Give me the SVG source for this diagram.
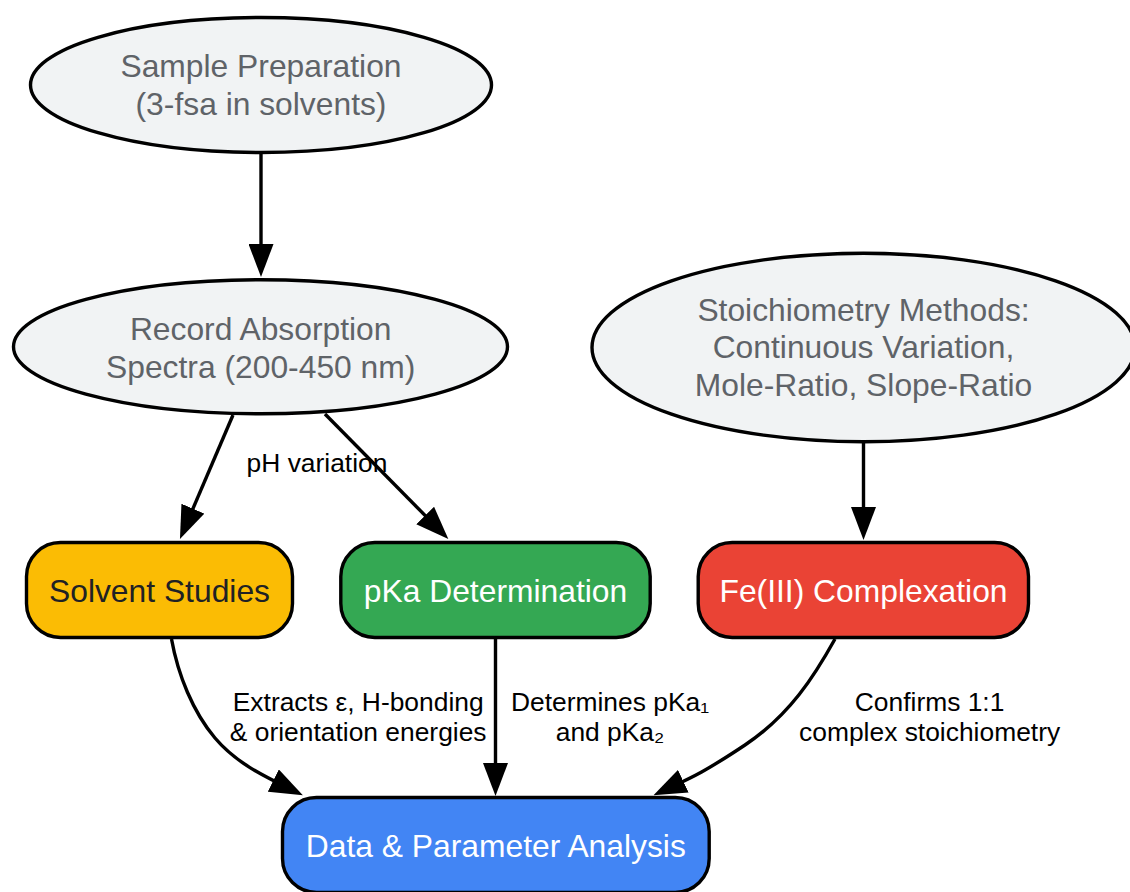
<svg xmlns="http://www.w3.org/2000/svg" width="1130" height="892" viewBox="0 0 1130 892">
<defs>
<style>
text{font-family:"Liberation Sans",Arial,sans-serif;text-anchor:middle}
.ell{fill:#f1f3f4;stroke:#000;stroke-width:3.4}
.box{stroke:#000;stroke-width:3.4}
.nt{font-size:31.8px}
.gt{fill:#5f6368}
.wt{fill:#ffffff}
.lbl{font-size:26.4px;fill:#000}
.edge{fill:none;stroke:#000;stroke-width:3.4;marker-end:url(#ah)}
</style>
<marker id="ah" markerUnits="userSpaceOnUse" markerWidth="33" markerHeight="25" refX="23" refY="12.5" orient="auto" viewBox="0 0 33 25">
<path d="M0,0 L33,12.5 L0,25 z" fill="#000"/>
</marker>
</defs>
<rect x="0" y="0" width="1130" height="892" fill="#ffffff"/>
<g id="connectors">
<path class="edge" d="M261,154 L261,267"/>
<path class="edge" d="M233,415 L183.9,529.8"/>
<path class="edge" d="M325,414 L441.3,531.9"/>
<path class="edge" d="M863.5,443 L863.5,530"/>
<path class="edge" d="M495.5,639 L495.5,786"/>
<path class="edge" d="M171.5,639 C178,675 193,712 215,738 S266,777 293.9,790.8"/>
<path class="edge" d="M835,639 C815,675 790,715 745,745 S688,779 662.5,791"/>
<text class="lbl" x="317" y="471.7">pH variation</text>
<text class="lbl" x="358.2" y="711">Extracts ε, H-bonding</text>
<text class="lbl" x="358.2" y="741">&amp; orientation energies</text>
<text class="lbl" x="610" y="711">Determines pKa₁</text>
<text class="lbl" x="610" y="741">and pKa₂</text>
<text class="lbl" x="929.6" y="711">Confirms 1:1</text>
<text class="lbl" x="929.6" y="741">complex stoichiometry</text>
</g>
<g id="sample">
<ellipse class="ell" cx="261" cy="85" rx="230.5" ry="67.5"/>
<text class="nt gt" x="261" y="77.3">Sample Preparation</text>
<text class="nt gt" x="261" y="115">(3-fsa in solvents)</text>
</g>
<g id="record">
<ellipse class="ell" cx="260.5" cy="346.7" rx="247" ry="67"/>
<text class="nt gt" x="260.7" y="340">Record Absorption</text>
<text class="nt gt" x="260.7" y="377.5">Spectra (200-450 nm)</text>
</g>
<g id="stoich">
<ellipse class="ell" cx="863.5" cy="347.5" rx="271.5" ry="94.3"/>
<text class="nt gt" x="863.5" y="321">Stoichiometry Methods:</text>
<text class="nt gt" x="863.5" y="358.3">Continuous Variation,</text>
<text class="nt gt" x="863.5" y="396">Mole-Ratio, Slope-Ratio</text>
</g>
<g id="solvent">
<rect class="box" x="26.5" y="542.5" width="266" height="95" rx="34" fill="#fbbc04"/>
<text class="nt" x="159.5" y="601.7" fill="#202124">Solvent Studies</text>
</g>
<g id="pka">
<rect class="box" x="340.8" y="542.5" width="309.4" height="95" rx="34" fill="#34a853"/>
<text class="nt wt" x="495.5" y="601.7">pKa Determination</text>
</g>
<g id="fe">
<rect class="box" x="698.2" y="542.5" width="330.3" height="95" rx="34" fill="#ea4335"/>
<text class="nt wt" x="863.5" y="601.7">Fe(III) Complexation</text>
</g>
<g id="data">
<rect class="box" x="282.5" y="797.5" width="426.7" height="95" rx="34" fill="#4285f4"/>
<text class="nt wt" x="495.8" y="857.3">Data &amp; Parameter Analysis</text>
</g>
</svg>
